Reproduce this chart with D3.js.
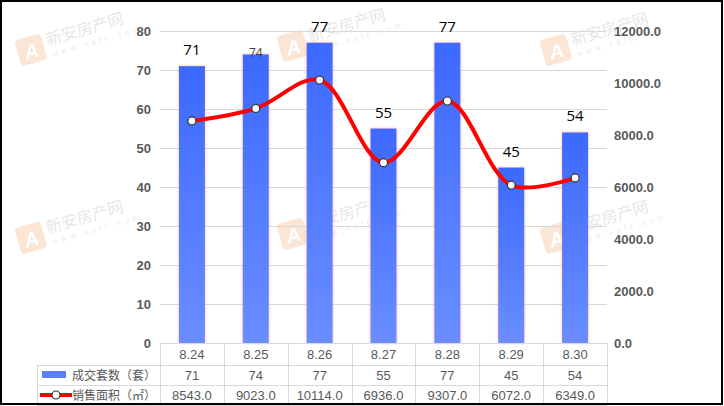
<!DOCTYPE html>
<html>
<head>
<meta charset="utf-8">
<script src="https://cdn.jsdelivr.net/npm/d3@7"></script>
<style>
  body { margin: 0; background: #fff; }
  svg { display: block; }
</style>
</head>
<body>
<div id="container"></div>
<script>
/* DATA */
const dates = ["8.24", "8.25", "8.26", "8.27", "8.28", "8.29", "8.30"];
const deals = [71, 74, 77, 55, 77, 45, 54];           // 成交套数（套）
const areas = [8543.0, 9023.0, 10114.0, 6936.0, 9307.0, 6072.0, 6349.0]; // 销售面积（㎡）
const leftTicks = [0, 10, 20, 30, 40, 50, 60, 70, 80];
const rightTicks = [0, 2000, 4000, 6000, 8000, 10000, 12000];
const seriesNames = ["成交套数（套）", "销售面积（㎡）"];

/* SIZES */
const W = 724, H = 406;
const plot = { left: 160, right: 607, top: 31, bottom: 343 };
const rowH = [22, 20, 20];
const tableLeft = 37;

const svg = d3.select("#container").append("svg")
  .attr("width", W).attr("height", H)
  .style("font-family", "'Liberation Sans', Arial, sans-serif");

const defs = svg.append("defs");
const grad = defs.append("linearGradient").attr("id", "barGrad")
  .attr("x1", 0).attr("y1", 0).attr("x2", 0).attr("y2", 1);
grad.append("stop").attr("offset", "0%").attr("stop-color", "#3c69ff");
grad.append("stop").attr("offset", "100%").attr("stop-color", "#6a8dff");

const glow = defs.append("filter").attr("id", "glow")
  .attr("x", "-30%").attr("y", "-5%").attr("width", "160%").attr("height", "110%");
glow.append("feDropShadow").attr("dx", 0).attr("dy", 0).attr("stdDeviation", 1.6)
  .attr("flood-color", "#f5a36a").attr("flood-opacity", 0.7);

// watermarks (faint logo)
const marks = [[18, 54], [280, 50], [543, 54], [18, 242], [280, 238], [543, 242]];
marks.forEach(([x, y]) => {
  const g = svg.append("g").attr("transform", `translate(${x},${y}) rotate(-16)`).attr("opacity", 0.25);
  g.append("rect").attr("x", 0).attr("y", -14).attr("width", 27).attr("height", 27).attr("rx", 4).attr("fill", "#f0a060");
  g.append("text").attr("x", 13.5).attr("y", 8).attr("text-anchor", "middle")
    .attr("fill", "#fff").attr("font-size", 20).attr("font-style", "italic").attr("font-weight", "bold").text("A");
  g.append("text").attr("x", 31).attr("y", 0).attr("fill", "#999")
    .attr("font-family", "'Noto Sans CJK SC'").attr("font-size", 16).text("新安房产网");
  g.append("text").attr("x", 33).attr("y", 12).attr("fill", "#aaa")
    .attr("font-size", 8).attr("letter-spacing", 3.5).text("www.xafc.com");
});

/* SCALES */
const x = d3.scaleBand().domain(dates).range([plot.left, plot.right]);
const yL = d3.scaleLinear().domain([0, 80]).range([plot.bottom, plot.top]);
const yR = d3.scaleLinear().domain([0, 12000]).range([plot.bottom, plot.top]);

// gridlines
svg.append("g").selectAll("line").data(leftTicks.slice(1)).join("line")
  .attr("x1", plot.left).attr("x2", plot.right)
  .attr("y1", d => yL(d) + 0.5).attr("y2", d => yL(d) + 0.5)
  .attr("stroke", "#d9d9d9");

// axis labels
svg.append("g").selectAll("text").data(leftTicks).join("text")
  .attr("x", 151).attr("y", d => yL(d) + 5)
  .attr("text-anchor", "end").attr("fill", "#595959")
  .attr("font-size", 13).attr("font-weight", "bold").text(d => d);

svg.append("g").selectAll("text").data(rightTicks).join("text")
  .attr("x", 614).attr("y", d => yR(d) + 5)
  .attr("fill", "#595959").attr("font-size", 13).attr("font-weight", "bold")
  .text(d => d.toFixed(1));

/* BARS */
const barW = 26;
svg.append("g").selectAll("rect").data(deals).join("rect")
  .attr("x", (d, i) => x(dates[i]) + x.bandwidth() / 2 - barW / 2)
  .attr("y", d => yL(d))
  .attr("width", barW)
  .attr("height", d => plot.bottom - yL(d))
  .attr("fill", "url(#barGrad)")
  .attr("filter", "url(#glow)");

// bar value labels (the 8.25 label sits smaller and lower in the original)
svg.append("g").selectAll("text").data(deals).join("text")
  .attr("x", (d, i) => x(dates[i]) + x.bandwidth() / 2)
  .attr("y", (d, i) => i === 1 ? yL(d) + 3 : yL(d) - 11)
  .attr("text-anchor", "middle")
  .attr("font-family", "'Open Sans', 'Liberation Sans', sans-serif")
  .attr("font-size", (d, i) => i === 1 ? 12 : 15)
  .attr("fill", (d, i) => i === 1 ? "#404040" : "#000")
  .text(d => d);

/* LINE */
const line = d3.line()
  .x((d, i) => x(dates[i]) + x.bandwidth() / 2)
  .y(d => yR(d))
  .curve(d3.curveCatmullRom.alpha(0.5));

svg.append("path").datum(areas)
  .attr("d", line).attr("fill", "none")
  .attr("stroke", "#ff0000").attr("stroke-width", 4).attr("stroke-linecap", "round");

svg.append("g").selectAll("circle").data(areas).join("circle")
  .attr("cx", (d, i) => x(dates[i]) + x.bandwidth() / 2)
  .attr("cy", d => yR(d))
  .attr("r", 4)
  .attr("fill", "#fff").attr("stroke", "#333").attr("stroke-width", 1.2);

/* DATA TABLE */
const t0 = plot.bottom, t1 = t0 + rowH[0], t2 = t1 + rowH[1], t3 = t2 + rowH[2];
const tg = svg.append("g").attr("stroke", "#d9d9d9").attr("stroke-width", 1);
tg.append("line").attr("x1", plot.left).attr("x2", plot.right).attr("y1", t0 + 0.5).attr("y2", t0 + 0.5);
[t1, t2, t3].forEach(y => tg.append("line").attr("x1", tableLeft).attr("x2", plot.right)
  .attr("y1", y + 0.5).attr("y2", y + 0.5));
tg.append("line").attr("x1", tableLeft + 0.5).attr("x2", tableLeft + 0.5).attr("y1", t1).attr("y2", t3);
dates.concat(["end"]).forEach((d, i) => {
  const xx = Math.round(plot.left + i * x.bandwidth()) + 0.5;
  tg.append("line").attr("x1", xx).attr("x2", xx).attr("y1", t0).attr("y2", t3);
});

const cellText = (row, y) => svg.append("g").selectAll("text").data(row).join("text")
  .attr("x", (d, i) => x(dates[i]) + x.bandwidth() / 2)
  .attr("y", y)
  .attr("text-anchor", "middle").attr("fill", "#595959").attr("font-size", 13)
  .text(d => d);

cellText(dates, t0 + 16);
cellText(deals, t1 + 15);
cellText(areas.map(d => d.toFixed(1)), t2 + 15);

// legend cells
svg.append("rect").attr("x", 42).attr("y", t1 + 6).attr("width", 24).attr("height", 7).attr("fill", "#5b7fff");
svg.append("line").attr("x1", 40).attr("x2", 72).attr("y1", t2 + 10).attr("y2", t2 + 10)
  .attr("stroke", "#ff0000").attr("stroke-width", 4);
svg.append("circle").attr("cx", 56).attr("cy", t2 + 10).attr("r", 4)
  .attr("fill", "#fff").attr("stroke", "#333").attr("stroke-width", 1.2);
svg.append("g").selectAll("text").data(seriesNames).join("text")
  .attr("x", 72).attr("y", (d, i) => (i === 0 ? t1 : t2) + 15)
  .attr("fill", "#595959").attr("font-size", 12)
  .attr("font-family", "'Noto Sans CJK SC', sans-serif")
  .text(d => d);

// frame
svg.append("rect").attr("x", 1).attr("y", 1).attr("width", W - 3).attr("height", H - 3)
  .attr("fill", "none").attr("stroke", "#000").attr("stroke-width", 2);
</script>
</body>
</html>
